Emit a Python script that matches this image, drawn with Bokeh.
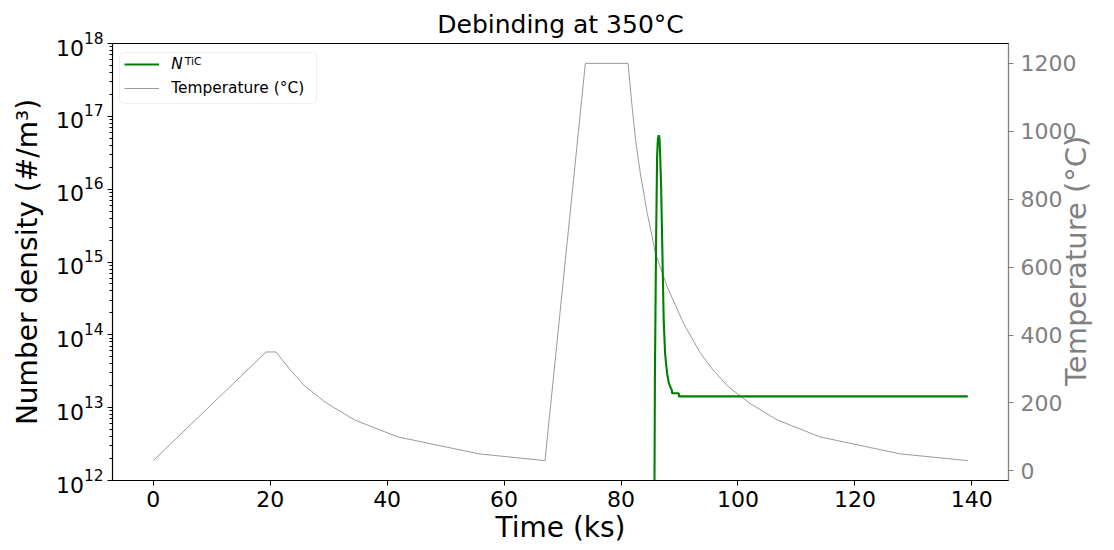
import math
from bokeh.plotting import figure
from bokeh.models import (Range1d, LinearAxis, LinearScale, FixedTicker, LogTickFormatter,
                          Legend, LegendItem, Label, BoxAnnotation)
from bokeh.embed import file_html
from bokeh.resources import INLINE

FONT = "DejaVu Sans"

title_text = "Debinding at 350°C"
x_label = "Time (ks)"
y_label = "Number density (#/m³)"
y2_label = "Temperature (°C)"
legend_n_label = "N"
legend_n_sup = "TiC"
legend_t_label = "Temperature (°C)"

x_ticks = [0, 20, 40, 60, 80, 100, 120, 140]
y_ticks = [1e12, 1e13, 1e14, 1e15, 1e16, 1e17, 1e18]
y2_ticks = [0, 200, 400, 600, 800, 1000, 1200]

# Temperature profile (ks, °C)
time_T = [0.0, 19.3, 21.0, 23.3, 25.9, 29.6, 34.4, 41.8, 55.7, 67.0,
          73.9, 81.2, 81.9, 82.5, 83.3, 84.5, 85.9, 87.9, 90.7, 93.6,
          95.6, 98.2, 101.9, 106.7, 114.0, 127.7, 139.3]
temp_T = [30, 350, 350, 300, 250, 200, 150, 100, 50, 30,
          1200, 1200, 1071, 974, 876, 758, 640, 542, 434, 346,
          300, 250, 200, 150, 100, 50, 30]

# TiC number density (ks, #/m3)
time_N = [85.70, 85.80, 86.00, 86.17, 86.30, 86.45, 86.58, 86.70, 86.86, 87.08,
          87.30, 87.54, 87.88, 88.20, 88.56, 88.70, 88.72, 89.88, 89.90, 139.3]
N_TiC = [3.2e11, 2.95e13, 2.0e15, 2.8e16, 4.8e16, 5.5e16, 5.0e16, 2.8e16, 1.07e16, 1.29e15,
         1.58e14, 5.5e13, 2.95e13, 2.14e13, 1.82e13, 1.74e13, 1.58e13, 1.58e13, 1.43e13, 1.43e13]

xmin, xmax = min(time_T), max(time_T)
xpad = 0.05 * (xmax - xmin)
tmin, tmax = min(temp_T), max(temp_T)
tpad = 0.05 * (tmax - tmin)

p = figure(width=1114, height=550,
           x_range=Range1d(xmin - xpad, xmax + xpad),
           y_range=Range1d(1e12, 1e18), y_axis_type="log",
           output_backend="svg", toolbar_location=None,
           min_border_left=112, min_border_right=106,
           min_border_top=43, min_border_bottom=70)
p.extra_y_ranges = {"temp": Range1d(tmin - tpad, tmax + tpad)}
p.extra_y_scales = {"temp": LinearScale()}

p.title.text = title_text
p.title.align = "center"
p.title.text_font = FONT
p.title.text_font_size = "25px"
p.title.text_font_style = "normal"
p.title.text_color = "black"
p.title.standoff = 9

p.xgrid.visible = False
p.ygrid.visible = False
p.outline_line_color = "black"
p.outline_line_width = 1.1
p.background_fill_color = "white"
p.border_fill_color = "white"

# bottom axis
xa = p.xaxis[0]
xa.ticker = FixedTicker(ticks=x_ticks)
xa.axis_label = x_label
xa.axis_label_text_font = FONT
xa.axis_label_text_font_size = "28px"
xa.axis_label_text_font_style = "normal"
xa.axis_label_text_color = "black"
xa.axis_label_standoff = 1
xa.major_label_text_font = FONT
xa.major_label_text_font_size = "22px"
xa.major_label_text_color = "black"
xa.major_label_standoff = 5
xa.major_tick_out = 5
xa.major_tick_in = 0
xa.minor_tick_line_color = None
xa.axis_line_color = "black"
xa.axis_line_width = 1.1

# left log axis
minor = [m * 10.0 ** e for e in range(12, 18) for m in range(2, 10)]
ya = p.yaxis[0]
ya.ticker = FixedTicker(ticks=y_ticks, minor_ticks=minor)
ya.formatter = LogTickFormatter()
ya.axis_label = y_label
ya.axis_label_text_font = FONT
ya.axis_label_text_font_size = "28px"
ya.axis_label_text_font_style = "normal"
ya.axis_label_text_color = "black"
ya.axis_label_standoff = 9
ya.major_label_text_font = FONT
ya.major_label_text_font_size = "22px"
ya.major_label_text_color = "black"
ya.major_label_standoff = 4
ya.major_tick_out = 5
ya.major_tick_in = 0
ya.minor_tick_out = 3
ya.minor_tick_in = 0
ya.axis_line_color = "black"
ya.axis_line_width = 1.1

# right temperature axis
ra = LinearAxis(y_range_name="temp", ticker=FixedTicker(ticks=y2_ticks))
ra.axis_line_color = "grey"
ra.axis_line_width = 1.1
ra.major_tick_line_color = "grey"
ra.major_tick_out = 5
ra.major_tick_in = 0
ra.minor_tick_line_color = None
ra.major_label_text_color = "grey"
ra.major_label_text_font = FONT
ra.major_label_text_font_size = "22px"
ra.major_label_standoff = 7
p.add_layout(ra, "right")

# right axis title, reading bottom to top, starting at the 250 °C level
title_start_T = 250
rl = LinearAxis(y_range_name="temp", ticker=FixedTicker(ticks=[title_start_T]),
                major_label_overrides={title_start_T: y2_label})
rl.axis_line_color = None
rl.major_tick_line_color = None
rl.minor_tick_line_color = None
rl.major_tick_out = 0
rl.major_tick_in = 0
rl.major_label_orientation = math.pi / 2
rl.major_label_text_font = FONT
rl.major_label_text_font_size = "29px"
rl.major_label_text_color = "grey"
rl.major_label_standoff = -3
p.add_layout(rl, "right")

# data lines
r_temp = p.line(time_T, temp_T, y_range_name="temp", line_color="grey", line_width=0.8)
r_n = p.line(time_N, N_TiC, line_color="green", line_width=2.1)

# legend frame
p.add_layout(BoxAnnotation(left=7, right=204, top=428, bottom=377,
                           left_units="screen", right_units="screen",
                           top_units="screen", bottom_units="screen",
                           fill_color="white", fill_alpha=0.8,
                           line_color="#cccccc", line_width=1, border_radius=4))

common = dict(border_line_color=None, background_fill_alpha=0, padding=0, margin=0,
              spacing=0, glyph_width=35, glyph_height=20, label_height=20,
              label_standoff=12, label_text_font=FONT, label_text_font_size="15.4px",
              label_text_color="black")
leg_n = Legend(items=[LegendItem(label=legend_n_label, renderers=[r_n])],
               location=(12.3, 406), label_text_font_style="italic", **common)
leg_t = Legend(items=[LegendItem(label=legend_t_label, renderers=[r_temp])],
               location=(12.3, 381.7), **common)
p.add_layout(leg_n, "center")
p.add_layout(leg_t, "center")
p.add_layout(Label(x=72.3, y=419, x_units="screen", y_units="screen", text=legend_n_sup,
                   text_font=FONT, text_font_size="10.8px", text_baseline="alphabetic",
                   text_color="black"))

open("out.html", "w").write(file_html(p, INLINE))
